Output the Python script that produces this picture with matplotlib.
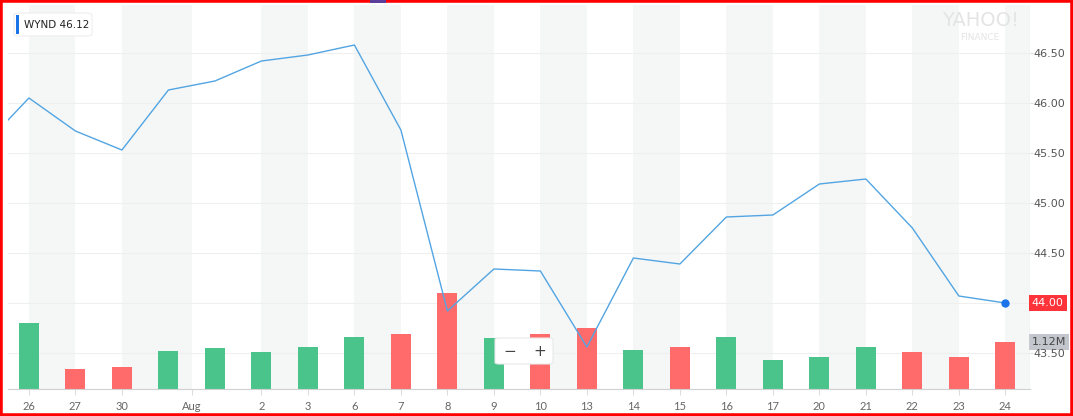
import matplotlib.pyplot as plt
from matplotlib.patches import Rectangle, FancyBboxPatch

# trading days Jul 25 .. Aug 24 (Jul 25 sits just left of the visible area)
days = ['25', '26', '27', '30', '31', '1', '2', '3', '6', '7', '8', '9', '10',
        '13', '14', '15', '16', '17', '20', '21', '22', '23', '24']
close = [45.56, 46.05, 45.72, 45.53, 46.13, 46.22, 46.42, 46.48, 46.58, 45.73,
         43.92, 44.34, 44.32, 43.56, 44.45, 44.39, 44.86, 44.88, 45.19, 45.24,
         44.75, 44.07, 44.00]
# volume in millions, Jul 26 .. Aug 24
volume = [1.57, 0.48, 0.52, 0.91, 0.98, 0.88, 1.00, 1.24, 1.31, 2.29, 1.22,
          1.31, 1.45, 0.93, 1.00, 1.24, 0.69, 0.76, 1.00, 0.88, 0.76, 1.12]

tick_pos = [0, 1, 2, 3.5, 5, 6, 7, 8, 9, 10, 11, 12, 13, 14, 15, 16, 17, 18, 19, 20, 21]
tick_lab = ['26', '27', '30', 'Aug', '2', '3', '6', '7', '8', '9', '10', '13',
            '14', '15', '16', '17', '20', '21', '22', '23', '24']
price_ticks = [43.5, 44.0, 44.5, 45.0, 45.5, 46.0, 46.5]

green = '#4bc48c'
red = '#ff6b6b'
line_c = '#52a5e2'

W, H = 1073, 416
fig = plt.figure(figsize=(W / 100, H / 100), dpi=100)
ax = fig.add_axes([8 / W, (H - 389) / H, (1030 - 8) / W, (389 - 5) / H])
vax = ax.twinx()

x_price = [i - 1 for i in range(len(close))]
x_vol = list(range(len(volume)))

ax.set_xlim(-0.45, 21.53)
ax.set_ylim(43.14, 46.98)
vax.set_ylim(0, 9.15)

# background bands and grid go on the lower (volume) axes
edges = tick_pos + [21.53]
for k in range(0, len(edges) - 1, 2):
    vax.axvspan(edges[k], edges[k + 1], color='#f5f7f7', zorder=0, lw=0)
for p in price_ticks:
    vax.axhline((p - 43.14) / (46.98 - 43.14) * 9.15, color='#efefef', lw=0.8, zorder=0.5)

# volume bars coloured by day change
cols = [green if close[i + 1] >= close[i] else red for i in range(len(volume))]
vax.bar(x_vol, volume, width=0.43, color=cols, zorder=1)

vax.set_zorder(1)
ax.set_zorder(2)
ax.patch.set_visible(False)
ax.plot(x_price, close, color=line_c, lw=1.0, zorder=3)
ax.plot(x_price[-1], close[-1], 'o', color='#1a73e8', ms=5, zorder=4)

for a in (ax, vax):
    for s in a.spines.values():
        s.set_visible(False)
ax.spines['bottom'].set_visible(True)
ax.spines['bottom'].set_color('#d0d0d0')
ax.axvline(21.53, color='#e6e6e6', lw=1)

ax.set_xticks(tick_pos)
ax.set_xticklabels(tick_lab, fontsize=8, color='#666666', family='Lato')
ax.tick_params(axis='x', length=4, color='#dddddd', pad=5)
ax.yaxis.tick_right()
ax.set_yticks(price_ticks)
ax.set_yticklabels(['' if p == close[-1] else '%.2f' % p for p in price_ticks],
                   fontsize=8, color='#555555')
ax.tick_params(axis='y', length=2, color='#e0e0e0', pad=0.8)
vax.set_yticks([])

# last price and volume labels on the right
ax.text(21.57, close[-1], '%.2f' % close[-1], fontsize=8,
        color='white', va='center', ha='left',
        bbox=dict(boxstyle='square,pad=0.25', fc='#ff333a', ec='none'))
vax.text(21.57, volume[-1], '%.2fM' % volume[-1], fontsize=8, color='#444444',
         va='center', ha='left',
         bbox=dict(boxstyle='square,pad=0.25', fc='#c3c6cc', ec='none'))

# legend chip
fig.patches.append(FancyBboxPatch((14 / W, (H - 36) / H), 78 / W, 23 / H,
                                  boxstyle='round,pad=0,rounding_size=0.005',
                                  transform=fig.transFigure, fc='white',
                                  ec='#eeeeee', lw=0.8, zorder=5))
fig.patches.append(Rectangle((16 / W, (H - 34) / H), 3 / W, 19 / H,
                             transform=fig.transFigure, fc='#1a73e8', ec='none', zorder=6))
fig.text(24 / W, (H - 24.5) / H, 'WYND 46.12', fontsize=7.5, color='#222222',
         va='center', ha='left', zorder=7)

# watermark
fig.text(980 / W, (H - 21) / H, 'YAHOO!', fontsize=14, color='#e4e4e4',
         ha='center', va='center')
fig.text(980 / W, (H - 37) / H, 'FINANCE', fontsize=6.5, color='#e4e4e4',
         ha='center', va='center')

# zoom control
fig.patches.append(FancyBboxPatch((495 / W, (H - 364) / H), 58 / W, 26 / H,
                                  boxstyle='round,pad=0,rounding_size=0.004',
                                  transform=fig.transFigure, fc='white',
                                  ec='#e8e8e8', lw=0.8, zorder=5))
fig.text(510 / W, (H - 352) / H, '\u2212', fontsize=11, color='#444444',
         ha='center', va='center', zorder=6)
fig.text(540 / W, (H - 352) / H, '+', fontsize=11, color='#444444',
         ha='center', va='center', zorder=6)
fig.lines.append(plt.Line2D([525 / W, 525 / W], [(H - 343) / H, (H - 360) / H],
                            transform=fig.transFigure, color='#dddddd', lw=0.8))

# red frame
fig.patches.append(Rectangle((0, 0), 1, 1, transform=fig.transFigure, fill=False,
                             ec='#ff0000', lw=4, zorder=10))
fig.patches.append(Rectangle((370 / W, (H - 3) / H), 16 / W, 3 / H,
                             transform=fig.transFigure, fc='#5b3f9a', ec='none', zorder=11))

fig.savefig('out.png', dpi=100)
